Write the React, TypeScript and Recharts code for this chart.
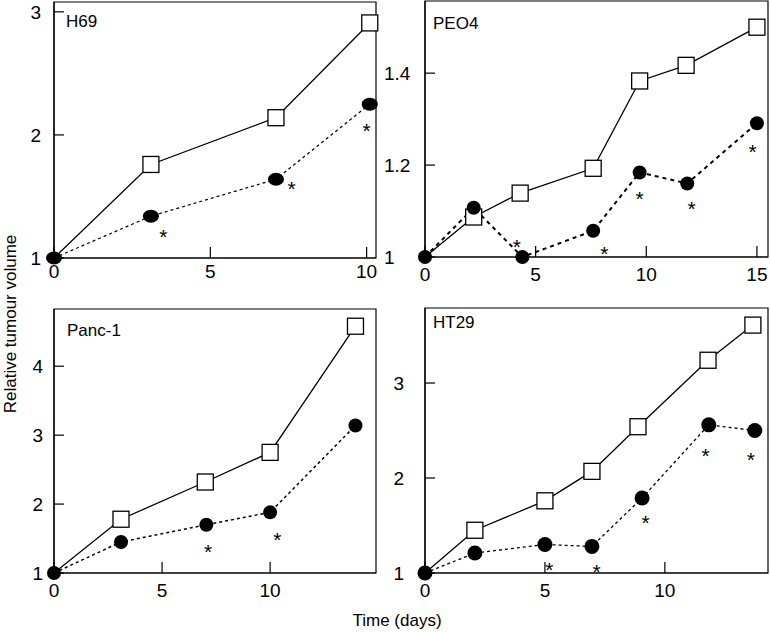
import React from "react";
import { ComposedChart, Line, ReferenceArea, Scatter, XAxis, YAxis } from "recharts";

const FONT = "'Liberation Sans', Arial, Helvetica, sans-serif";

// H69
const h69SquareX = [0, 3.1, 7.1, 10.1];
const h69SquareY = [1, 1.76, 2.14, 2.91];
const h69CircleX = [0, 3.1, 7.1, 10.1];
const h69CircleY = [1, 1.34, 1.64, 2.25];
const h69StarX = [3.5, 7.6, 10.0];
const h69StarY = [1.21, 1.6, 2.07];
const h69XTicks = [0, 5, 10];
const h69YTicks = [1, 2, 3];

// PEO4
const peoSquareX = [0, 2.2, 4.3, 7.6, 9.7, 11.8, 15];
const peoSquareY = [1, 1.087, 1.139, 1.193, 1.383, 1.417, 1.5];
const peoCircleX = [0, 2.2, 4.4, 7.6, 9.7, 11.85, 15];
const peoCircleY = [1, 1.107, 1.0, 1.057, 1.184, 1.16, 1.291];
const peoStarX = [4.15, 8.1, 9.7, 12.05, 14.8];
const peoStarY = [1.033, 1.018, 1.137, 1.115, 1.239];
const peoXTicks = [0, 5, 10, 15];
const peoYTicks = [1, 1.2, 1.4];

// Panc-1
const pancSquareX = [0, 3.1, 7.0, 10.0, 13.95];
const pancSquareY = [1, 1.78, 2.32, 2.75, 4.58];
const pancCircleX = [0, 3.1, 7.05, 10.0, 13.95];
const pancCircleY = [1, 1.45, 1.7, 1.88, 3.14];
const pancStarX = [7.13, 10.33];
const pancStarY = [1.37, 1.55];
const pancXTicks = [0, 5, 10];
const pancYTicks = [1, 2, 3, 4];

// HT29
const ht29SquareX = [0, 2.08, 5.0, 6.96, 8.88, 11.8, 13.67];
const ht29SquareY = [1, 1.45, 1.76, 2.07, 2.54, 3.24, 3.61];
const ht29CircleX = [0, 2.08, 5.0, 6.96, 9.05, 11.83, 13.75];
const ht29CircleY = [1, 1.21, 1.3, 1.28, 1.79, 2.56, 2.5];
const ht29StarX = [5.18, 7.15, 9.2, 11.7, 13.58];
const ht29StarY = [1.08, 1.06, 1.58, 2.28, 2.24];
const ht29XTicks = [0, 5, 10];
const ht29YTicks = [1, 2, 3];

const pts = (xs: number[], ys: number[]) => xs.map((x, i) => ({ x, y: ys[i] }));

// the day-0 square sits under the control ball, so it is not drawn
const squareDot = (props: any) => {
  const { cx, cy, index } = props;
  if (cx == null || cy == null || index === 0) return <g key={index} />;
  return (
    <rect key={index} x={cx - 8} y={cy - 8} width={16} height={16} fill="#fff" stroke="#000" strokeWidth={1.3} />
  );
};

const circleDot = (rx: number, ry: number) => (props: any) => {
  const { cx, cy, index } = props;
  if (cx == null || cy == null) return <g key={index} />;
  return <ellipse key={index} cx={cx} cy={cy} rx={rx} ry={ry} fill="#000" />;
};

const starShape = (props: any) => {
  const { cx, cy } = props;
  return (
    <text x={cx} y={cy + 12} textAnchor="middle" fontSize={21} fontFamily={FONT} fill="#000">
      *
    </text>
  );
};

interface PanelProps {
  left: number;
  top: number;
  width: number;
  height: number;
  margin: { top: number; right: number; bottom: number; left: number };
  yAxisWidth: number;
  xAxisHeight: number;
  xTickMargin: number;
  yTickMargin: number;
  yTickAnchor?: string;
  xDomain: [number, number];
  yDomain: [number, number];
  xTicks: number[];
  yTicks: number[];
  squares: { x: number; y: number }[];
  circles: { x: number; y: number }[];
  stars: { x: number; y: number }[];
  dash: string;
  dashWidth: number;
  rx: number;
  ry: number;
}

function Panel(p: PanelProps) {
  const tickStyle = { fill: "#000", fontSize: 19, fontFamily: FONT };
  return (
    <div style={{ position: "absolute", left: p.left, top: p.top }}>
      <ComposedChart width={p.width} height={p.height} margin={p.margin}>
        <XAxis
          type="number"
          dataKey="x"
          domain={p.xDomain}
          ticks={p.xTicks}
          height={p.xAxisHeight}
          tickSize={-11}
          tickMargin={p.xTickMargin}
          tick={tickStyle}
          stroke="#000"
          axisLine={{ stroke: "#000", strokeWidth: 1.2 }}
          tickLine={{ stroke: "#000", strokeWidth: 1.2 }}
          interval={0}
        />
        <YAxis
          type="number"
          dataKey="y"
          domain={p.yDomain}
          ticks={p.yTicks}
          width={p.yAxisWidth}
          tickSize={-10}
          tickMargin={p.yTickMargin}
          tick={p.yTickAnchor ? { ...tickStyle, textAnchor: p.yTickAnchor } : tickStyle}
          stroke="#000"
          axisLine={{ stroke: "#000", strokeWidth: 1.2 }}
          tickLine={{ stroke: "#000", strokeWidth: 1.2 }}
          interval={0}
        />
        <ReferenceArea
          x1={p.xDomain[0]}
          x2={p.xDomain[1]}
          y1={p.yDomain[0]}
          y2={p.yDomain[1]}
          fill="none"
          fillOpacity={0}
          stroke="#000"
          strokeWidth={1.2}
        />
        <Line
          data={p.squares}
          dataKey="y"
          type="linear"
          stroke="#000"
          strokeWidth={1.3}
          dot={squareDot}
          activeDot={false}
          isAnimationActive={false}
        />
        <Line
          data={p.circles}
          dataKey="y"
          type="linear"
          stroke="#000"
          strokeWidth={p.dashWidth}
          strokeDasharray={p.dash}
          dot={circleDot(p.rx, p.ry)}
          activeDot={false}
          isAnimationActive={false}
        />
        <Scatter data={p.stars} dataKey="y" shape={starShape} isAnimationActive={false} />
      </ComposedChart>
    </div>
  );
}

export default function App() {
  return (
    <div style={{ position: "absolute", left: 0, top: 0, width: 770, height: 632, background: "#fff" }}>
      <Panel
        left={0}
        top={0}
        width={380}
        height={290}
        margin={{ top: 2, right: 4, bottom: 0, left: 0 }}
        yAxisWidth={54}
        xAxisHeight={32}
        xTickMargin={18}
        yTickMargin={23}
        xDomain={[0, 10.3]}
        yDomain={[1, 3.08]}
        xTicks={h69XTicks}
        yTicks={h69YTicks}
        squares={pts(h69SquareX, h69SquareY)}
        circles={pts(h69CircleX, h69CircleY)}
        stars={pts(h69StarX, h69StarY)}
        dash="3 3"
        dashWidth={1.2}
        rx={8}
        ry={6.5}
      />
      <Panel
        left={380}
        top={0}
        width={390}
        height={290}
        margin={{ top: 1, right: 2, bottom: 0, left: 0 }}
        yAxisWidth={45}
        xAxisHeight={33}
        xTickMargin={22}
        yTickMargin={51}
        yTickAnchor="start"
        xDomain={[0, 15.5]}
        yDomain={[1, 1.557]}
        xTicks={peoXTicks}
        yTicks={peoYTicks}
        squares={pts(peoSquareX, peoSquareY)}
        circles={pts(peoCircleX, peoCircleY)}
        stars={pts(peoStarX, peoStarY)}
        dash="4 4"
        dashWidth={2}
        rx={7}
        ry={7}
      />
      <Panel
        left={0}
        top={300}
        width={380}
        height={305}
        margin={{ top: 9, right: 4, bottom: 0, left: 0 }}
        yAxisWidth={54}
        xAxisHeight={32}
        xTickMargin={22}
        yTickMargin={21}
        xDomain={[0, 14.9]}
        yDomain={[1, 4.83]}
        xTicks={pancXTicks}
        yTicks={pancYTicks}
        squares={pts(pancSquareX, pancSquareY)}
        circles={pts(pancCircleX, pancCircleY)}
        stars={pts(pancStarX, pancStarY)}
        dash="3 3"
        dashWidth={1.5}
        rx={7}
        ry={7}
      />
      <Panel
        left={380}
        top={300}
        width={390}
        height={305}
        margin={{ top: 8, right: 2, bottom: 0, left: 0 }}
        yAxisWidth={45}
        xAxisHeight={32}
        xTickMargin={22}
        yTickMargin={31}
        xDomain={[0, 14.3]}
        yDomain={[1, 3.79]}
        xTicks={ht29XTicks}
        yTicks={ht29YTicks}
        squares={pts(ht29SquareX, ht29SquareY)}
        circles={pts(ht29CircleX, ht29CircleY)}
        stars={pts(ht29StarX, ht29StarY)}
        dash="3 3"
        dashWidth={1.3}
        rx={7.5}
        ry={7.5}
      />
      <svg
        width={770}
        height={632}
        style={{ position: "absolute", left: 0, top: 0, pointerEvents: "none" }}
        fontFamily={FONT}
        fontSize={17}
      >
        <text x={66} y={27}>H69</text>
        <text x={433} y={29}>PEO4</text>
        <text x={67} y={336}>Panc-1</text>
        <text x={433} y={328}>HT29</text>
        <text x={397} y={626} textAnchor="middle">Time (days)</text>
        <text x={16} y={324} textAnchor="middle" transform="rotate(-90 16 324)">
          Relative tumour volume
        </text>
      </svg>
    </div>
  );
}
